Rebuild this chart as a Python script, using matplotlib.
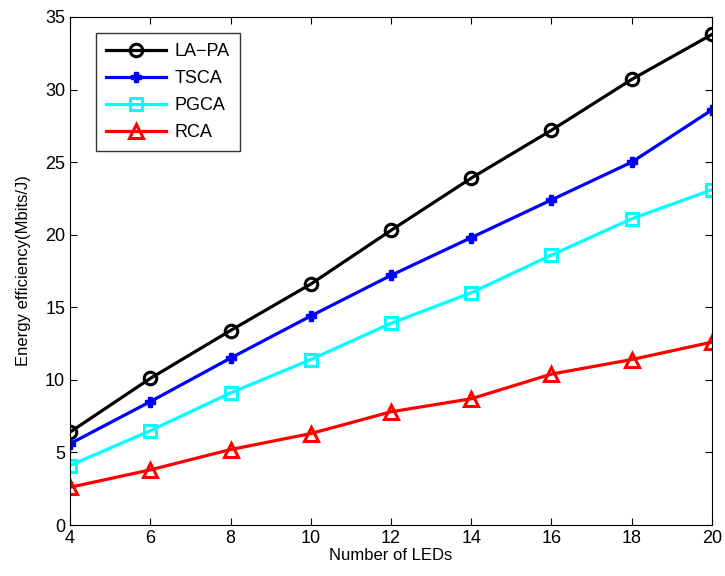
import matplotlib
matplotlib.use('Agg')
import matplotlib.pyplot as plt

plt.rcParams['font.family'] = ['Liberation Sans', 'DejaVu Sans']

leds = [4, 6, 8, 10, 12, 14, 16, 18, 20]
lapa = [6.4, 10.1, 13.4, 16.6, 20.3, 23.9, 27.2, 30.7, 33.8]
tsca = [5.6, 8.5, 11.5, 14.4, 17.2, 19.8, 22.4, 25.0, 28.6]
pgca = [4.1, 6.5, 9.1, 11.4, 13.9, 16.0, 18.6, 21.1, 23.1]
rca = [2.6, 3.8, 5.2, 6.3, 7.8, 8.7, 10.4, 11.4, 12.6]

fig = plt.figure(figsize=(7.25, 5.76), dpi=100)
ax = fig.add_axes([0.0966, 0.0885, 0.8854, 0.882])

ax.plot(leds, lapa, '-o', color='k', lw=2.3, ms=9, mew=2.2, mfc='none', label='LA\u2212PA')
ax.plot(leds, tsca, '-P', color='b', lw=2.3, ms=6.5, mew=1, label='TSCA')
ax.plot(leds, pgca, '-s', color='cyan', lw=2.3, ms=9, mew=2.2, mfc='none', label='PGCA')
ax.plot(leds, rca, '-^', color='r', lw=2.3, ms=10, mew=2.2, mfc='none', label='RCA')

ax.set_xlim(4, 20)
ax.set_ylim(0, 35)
ax.set_xticks(leds)
ax.set_yticks(range(0, 36, 5))
ax.tick_params(direction='in', top=True, right=True, labelsize=13, length=5)
ax.set_xlabel('Number of LEDs', fontsize=12, labelpad=1)
ax.set_ylabel('Energy efficiency(Mbits/J)', fontsize=12, labelpad=10)

leg = ax.legend(loc='upper left', bbox_to_anchor=(0.027, 0.986), fontsize=13,
                frameon=True, fancybox=False, edgecolor='k', handlelength=3.3,
                borderpad=0.55, labelspacing=0.56, handletextpad=0.5)
leg.get_frame().set_linewidth(1)

fig.savefig('out.png', dpi=100)
